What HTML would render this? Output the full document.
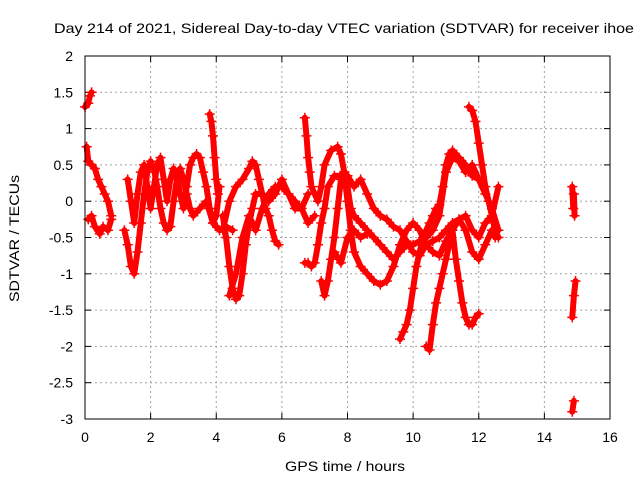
<!DOCTYPE html>
<html><head><meta charset="utf-8"><style>body{margin:0;background:#fff}svg{display:block;font-family:"Liberation Sans",sans-serif}</style></head>
<body>
<svg id="c" width="640" height="480">
<text x="54" y="33" font-size="14" textLength="580" lengthAdjust="spacingAndGlyphs">Day 214 of 2021, Sidereal Day-to-day VTEC variation (SDTVAR) for receiver ihoe</text>
<text x="285" y="471" font-size="14" textLength="120" lengthAdjust="spacingAndGlyphs">GPS time / hours</text>
<text x="0" y="0" font-size="14" textLength="127" lengthAdjust="spacingAndGlyphs" transform="translate(19 302) rotate(-90)">SDTVAR / TECUs</text>
<g id="grid"></g><g id="marks"></g>
<rect x="85" y="56" width="525" height="363" fill="none" stroke="#000"/>
</svg>
<script>
const xTicks=[0,2,4,6,8,10,12,14,16];
const yTicks=[2,1.5,1,0.5,0,-0.5,-1,-1.5,-2,-2.5,-3];
const T1=[[0.05,0.75],[0.1,0.55],[0.2,0.5],[0.3,0.45],[0.4,0.3],[0.5,0.2],[0.6,0.1],[0.7,0.0],[0.8,-0.2]];
const T2=[[0.1,-0.25],[0.2,-0.2],[0.3,-0.35],[0.45,-0.45],[0.55,-0.35],[0.7,-0.4],[0.8,-0.25]];
const T3=[[0.0,1.3],[0.1,1.35],[0.15,1.45],[0.2,1.5]];
const T4=[[1.2,-0.4],[1.3,-0.6],[1.4,-0.9],[1.5,-1.0],[1.6,-0.7],[1.7,-0.3],[1.8,0.1],[1.9,0.4],[2.0,0.55],[2.1,0.45],[2.2,0.2],[2.3,-0.1],[2.4,-0.3],[2.5,-0.4],[2.6,-0.35],[2.7,0.0],[2.8,0.3],[2.9,0.45],[3.0,0.3],[3.1,0.1],[3.2,-0.1],[3.3,-0.2],[3.5,-0.1],[3.7,0.0],[3.9,-0.3],[4.1,-0.4],[4.3,-0.35],[4.5,-0.4]];
const T5=[[1.3,0.3],[1.4,0.0],[1.5,-0.3],[1.6,0.1],[1.7,0.4],[1.8,0.5],[1.9,0.2],[2.0,-0.1],[2.1,0.2],[2.2,0.5],[2.3,0.6],[2.4,0.3],[2.5,0.0],[2.6,0.3],[2.7,0.45],[2.8,0.35],[2.9,0.1],[3.0,-0.1],[3.1,0.2],[3.2,0.5],[3.3,0.6],[3.4,0.65],[3.5,0.6],[3.6,0.4],[3.7,0.2],[3.8,-0.1],[3.9,-0.3],[4.0,-0.2],[4.1,0.2]];
const T6=[[3.8,1.2],[3.85,1.1],[3.9,0.9],[3.95,0.6],[4.0,0.3],[4.05,0.1]];
const T7=[[4.2,-0.2],[4.3,-0.5],[4.4,-0.9],[4.5,-1.2],[4.6,-1.35],[4.7,-1.3],[4.8,-1.0],[4.9,-0.6],[5.0,-0.3],[5.1,-0.1],[5.2,0.1],[5.4,0.1],[5.6,0.0],[5.8,0.1],[6.0,0.3],[6.2,0.1],[6.4,-0.1],[6.6,-0.1],[6.8,0.1]];
const T8=[[4.2,-0.4],[4.4,0.0],[4.6,0.2],[4.8,0.3],[5.0,0.45],[5.1,0.55],[5.2,0.5],[5.3,0.3],[5.4,0.1],[5.5,-0.1],[5.6,-0.2],[5.7,-0.4],[5.8,-0.55],[5.9,-0.6]];
const T9=[[4.4,-1.3],[4.6,-1.0],[4.8,-0.5],[5.0,-0.2],[5.2,-0.4],[5.4,-0.1],[5.6,0.1],[5.8,0.2],[6.0,0.2],[6.2,0.1],[6.4,0.0],[6.6,-0.1],[6.8,-0.3],[7.0,-0.2]];
const T10=[[6.7,1.15],[6.75,0.9],[6.8,0.6],[6.85,0.4],[6.9,0.2],[7.0,0.1],[7.1,0.0],[7.2,0.2],[7.3,0.5],[7.5,0.7],[7.7,0.75],[7.8,0.65],[7.9,0.4],[8.0,0.2],[8.1,-0.1],[8.2,-0.2],[8.4,-0.3],[8.6,-0.4],[8.8,-0.5],[9.0,-0.6],[9.2,-0.7],[9.4,-0.8],[9.6,-0.7],[9.8,-0.6],[10.0,-0.6],[10.2,-0.55],[10.4,-0.5],[10.6,-0.4],[10.8,-0.2],[11.0,0.4],[11.2,0.6],[11.4,0.55],[11.6,0.4],[11.8,0.5],[12.0,0.3]];
const T11=[[6.7,-0.85],[6.8,-0.85],[6.9,-0.9],[7.0,-0.85],[7.1,-0.6],[7.2,-0.3],[7.3,-0.1],[7.4,0.2],[7.6,0.35],[7.8,0.35],[8.0,0.35],[8.2,0.2],[8.4,0.3],[8.6,0.1],[8.8,-0.1],[9.0,-0.2],[9.2,-0.25],[9.4,-0.35],[9.6,-0.4],[9.8,-0.55],[10.0,-0.7],[10.2,-0.75],[10.4,-0.6],[10.6,-0.55],[10.8,-0.5],[11.0,-0.4],[11.2,-0.3],[11.4,-0.25],[11.6,-0.4],[11.8,-0.7],[12.0,-0.8],[12.2,-0.6],[12.4,-0.4],[12.5,-0.5]];
const T12=[[7.2,-1.1],[7.3,-1.3],[7.4,-1.1],[7.5,-0.8],[7.6,-0.5],[7.7,-0.1],[7.8,0.3],[7.9,0.4],[8.0,0.0],[8.1,-0.4],[8.2,-0.7],[8.4,-0.9],[8.6,-1.0],[8.8,-1.1],[9.0,-1.15],[9.2,-1.1],[9.4,-0.9],[9.6,-0.6],[9.8,-0.4],[10.0,-0.3],[10.2,-0.4],[10.4,-0.6],[10.6,-0.7],[10.8,-0.75],[11.0,-0.55],[11.2,-0.4],[11.4,-0.25],[11.6,-0.2],[11.8,-0.4],[12.0,-0.5],[12.2,-0.3],[12.4,-0.2],[12.6,0.2]];
const T13=[[7.6,-0.7],[7.8,-0.85],[8.0,-0.5],[8.2,-0.4],[8.4,-0.5],[8.6,-0.45]];
const T14=[[9.6,-1.9],[9.7,-1.8],[9.8,-1.7],[9.9,-1.5],[10.0,-1.2],[10.1,-0.9],[10.2,-0.7],[10.3,-0.5],[10.4,-0.4],[10.5,-0.3],[10.6,-0.2],[10.7,-0.1],[10.8,-0.05],[10.9,0.2],[11.0,0.5],[11.1,0.65],[11.2,0.7],[11.4,0.6],[11.6,0.5],[11.8,0.35],[12.0,0.3],[12.2,0.1],[12.4,-0.1],[12.6,-0.4]];
const T15=[[10.4,-2.0],[10.5,-2.05],[10.6,-1.7],[10.7,-1.4],[10.8,-1.2],[10.9,-1.0],[11.0,-0.8],[11.1,-0.6],[11.2,-0.4],[11.3,-0.8],[11.4,-1.1],[11.5,-1.4],[11.6,-1.6],[11.7,-1.7],[11.8,-1.7],[11.9,-1.6],[12.0,-1.55]];
const T16=[[11.7,1.3],[11.8,1.25],[11.9,1.1],[12.0,0.8],[12.1,0.5],[12.2,0.2],[12.3,0.0],[12.4,-0.2],[12.5,-0.4],[12.6,-0.5]];
const T17=[[14.85,0.2],[14.88,-0.1],[14.9,0.1],[14.92,-0.2]];
const T18=[[14.85,-1.6],[14.9,-1.3],[14.95,-1.1]];
const T19=[[14.85,-2.9],[14.9,-2.75]];
const tracks=[T1,T2,T3,T4,T5,T6,T7,T8,T9,T10,T11,T12,T13,T14,T15,T16,T17,T18,T19];
const NS='http://www.w3.org/2000/svg';
const X=t=>85+t*525/16, Y=v=>56+(2-v)*363/5;
const g=document.getElementById('grid'), m=document.getElementById('marks');
function mk(tag,a,p){const e=document.createElementNS(NS,tag);for(const k in a)e.setAttribute(k,a[k]);p.appendChild(e);return e;}
xTicks.forEach(t=>{const x=X(t);
 if(t>0&&t<16){const l=mk('line',{x1:x,x2:x,y1:56,y2:419,stroke:'#a0a0a0','stroke-dasharray':'2,3'},g);}
 mk('line',{x1:x,x2:x,y1:419,y2:413,stroke:'#000'},g);mk('line',{x1:x,x2:x,y1:56,y2:62,stroke:'#000'},g);
 const tx=mk('text',{x:x,y:442,'text-anchor':'middle','font-size':14},g);tx.textContent=t;
 });
yTicks.forEach(v=>{const y=Y(v);
 if(v<2&&v>-3){const l=mk('line',{x1:85,x2:610,y1:y,y2:y,stroke:'#a0a0a0','stroke-dasharray':'2,3'},g);}
 mk('line',{x1:85,x2:91,y1:y,y2:y,stroke:'#000'},g);mk('line',{x1:610,x2:604,y1:y,y2:y,stroke:'#000'},g);
 const tx=mk('text',{x:73,y:y+5,'text-anchor':'end','font-size':14},g);tx.textContent=v;
 });
tracks.forEach((tr,i)=>{
 const pl=mk('polyline',{points:tr.map(p=>X(p[0])+','+Y(p[1])).join(' '),fill:'none',stroke:'#f00','stroke-width':6,'stroke-linejoin':'round','stroke-linecap':'round'},m);
 
 
 tr.forEach(p=>{const x=X(p[0]),y=Y(p[1]);
  const c=mk('path',{d:`M${x-5},${y}h10M${x},${y-5}v10`,stroke:'#f00','stroke-width':1.5},m);
  
  });
});
</script>
</body></html>
